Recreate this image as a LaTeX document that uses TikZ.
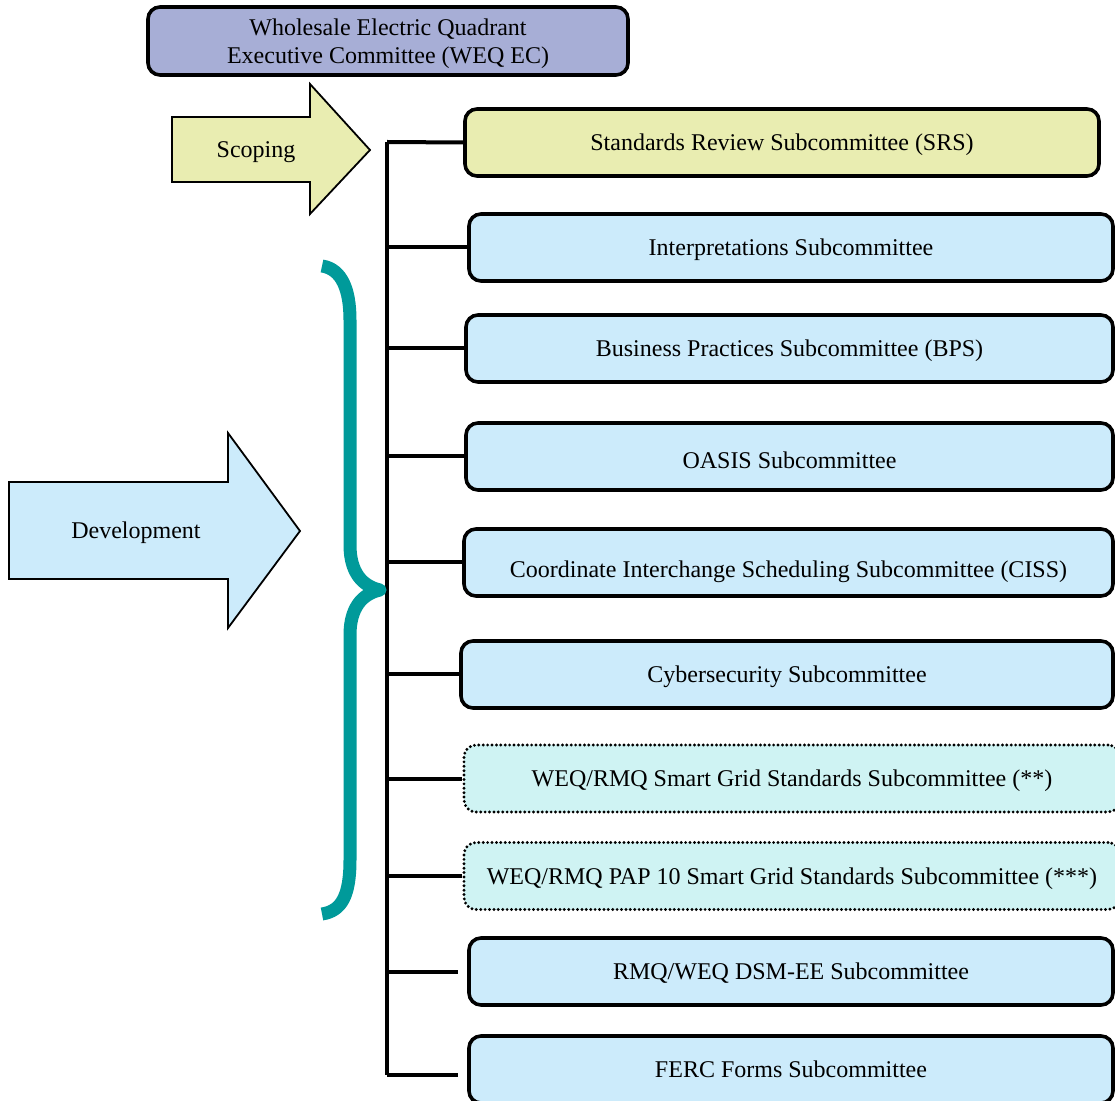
\documentclass[tikz,border=0pt]{standalone}
\usepackage{fontspec}
\setmainfont{Liberation Serif}
\usepackage{tikz}
\usetikzlibrary{positioning}
\usepackage{xcolor}
\definecolor{eclav}{HTML}{A7AED6}
\definecolor{scopeyel}{HTML}{E9EDB1}
\definecolor{devblue}{HTML}{CCEBFB}
\definecolor{gridcyan}{HTML}{CFF3F3}
\definecolor{braceteal}{HTML}{009A9A}

\begin{document}
\begin{tikzpicture}[x=0.5pt,y=-0.5pt,font=\fontsize{12}{14}\selectfont,
  box/.style={draw,line width=1.8pt,rounded corners=6pt,fill=devblue,minimum height=33.5pt,inner sep=0pt,text depth=0pt},
  gridbox/.style={box,draw,line width=1.6pt,dash pattern=on 0pt off 2.2pt,line cap=round,fill=gridcyan},
  wire/.style={line width=2pt},
  bigarrow/.style={draw,line width=0.9pt}]
\clip (0,0) rectangle (1115,1101);

\node[box,fill=eclav,minimum width=240pt,minimum height=34pt,align=center] (weq) at (388,41)
  {Wholesale Electric Quadrant\\Executive Committee (WEQ EC)};

\node[box,fill=scopeyel,minimum width=317pt] (srs) at (782,142.5) {Standards Review Subcommittee (SRS)};
\node[box,minimum width=322pt] (interp) at (791,247.5) {Interpretations Subcommittee};
\node[box,minimum width=323.5pt] (bps) at (789.5,348.5) {Business Practices Subcommittee (BPS)};
\node[box,minimum width=323.5pt,text height=12.5pt] (oasis) at (789.5,456.5) {OASIS Subcommittee};
\node[box,minimum width=324.5pt,text height=15.5pt] (ciss) at (788.5,562.5) {Coordinate Interchange Scheduling Subcommittee (CISS)};
\node[box,minimum width=326pt] (cyber) at (787,674.5) {Cybersecurity Subcommittee};
\node[gridbox,minimum width=328pt] (sgrid) at (792,778.5) {WEQ/RMQ Smart Grid Standards Subcommittee (**)};
\node[gridbox,minimum width=328pt] (pap) at (792,876) {WEQ/RMQ PAP 10 Smart Grid Standards Subcommittee (***)};
\node[box,minimum width=322pt] (dsm) at (791,971.5) {RMQ/WEQ DSM-EE Subcommittee};
\node[box,minimum width=322pt] (ferc) at (791,1069.5) {FERC Forms Subcommittee};

\coordinate (bustop) at (387,142);
\coordinate (busbot) at (387,1075);
\draw[wire] (bustop) -- (busbot);
\draw[wire] (bustop) -- (srs.west);
\draw[wire] (bustop |- interp.west) -- (interp.west);
\draw[wire] (bustop |- bps.west) -- (bps.west);
\draw[wire] (bustop |- oasis.west) -- (oasis.west);
\draw[wire] (bustop |- ciss.west) -- (ciss.west);
\draw[wire] (bustop |- cyber.west) -- (cyber.west);
\draw[wire] (bustop |- sgrid.west) -- (sgrid.west);
\draw[wire] (bustop |- pap.west) -- (pap.west);
\draw[wire] (bustop |- dsm.west) -- ([xshift=-4.5pt]dsm.west);
\path (busbot -| ferc.west) ++(-4.5pt,0) coordinate (fercend);
\draw[wire] (busbot) -- (fercend);

\draw[bigarrow,fill=scopeyel] (172,117) -- (310,117) -- (310,84) -- (370,150) -- (310,214) -- (310,182) -- (172,182) -- cycle;
\node (scoping) at (256,152) {Scoping};

\draw[bigarrow,fill=devblue] (9,482) -- (228,482) -- (228,433) -- (300,531) -- (228,628) -- (228,579) -- (9,579) -- cycle;
\node (develop) at (136,533) {Development};

\draw[braceteal,line width=6.5pt,line join=round] (322,266) .. controls (342,269) and (350,290) .. (350,320) -- (350,545)
  .. controls (350,572) and (362,586) .. (380,590)
  .. controls (362,594) and (350,608) .. (350,635) -- (350,860)
  .. controls (350,895) and (342,911) .. (322,914);

\end{tikzpicture}
\end{document}
